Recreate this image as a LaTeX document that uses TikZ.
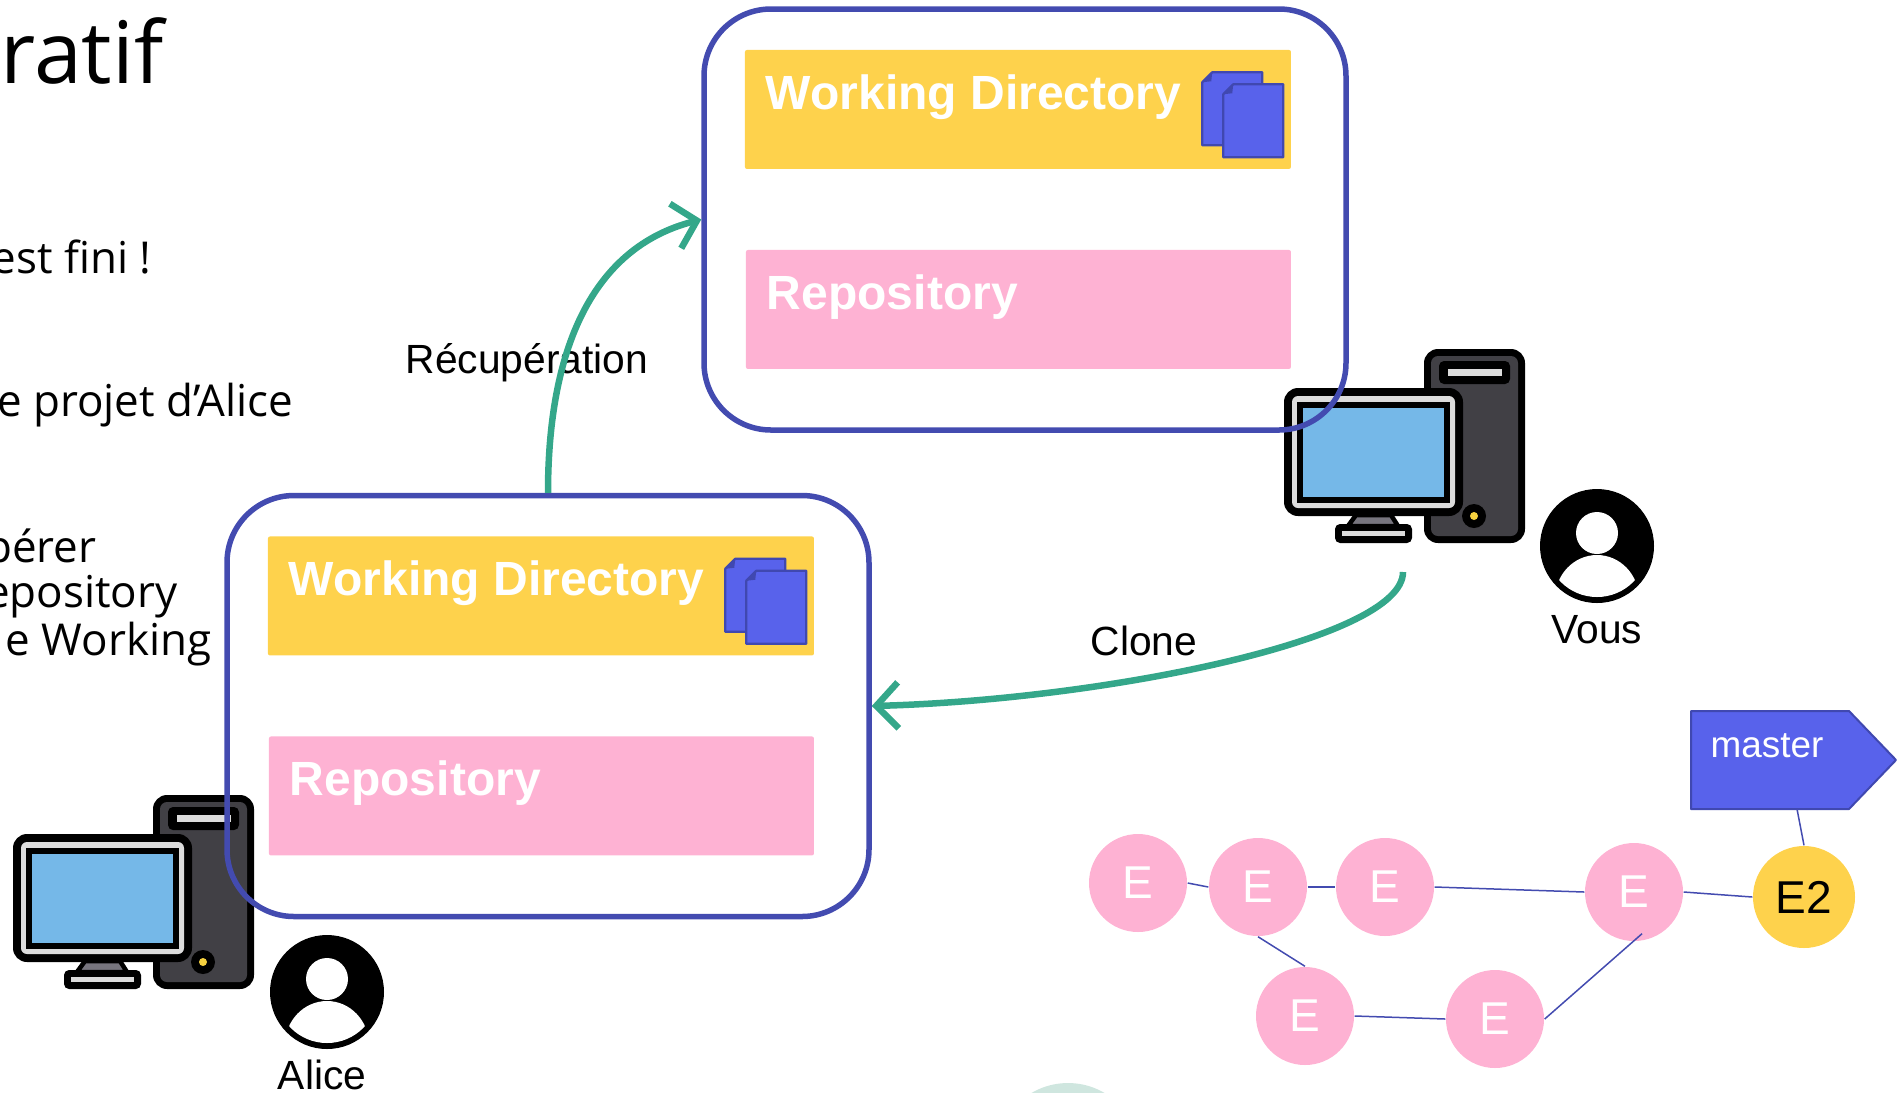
\documentclass[tikz,border=0pt]{standalone}
\usepackage{fontspec}
\setmainfont{Liberation Sans}
\newfontfamily\slidefont{Open Sans}
\usetikzlibrary{arrows.meta,calc}

\definecolor{frameblue}{RGB}{67,75,176}
\definecolor{wdyellow}{RGB}{254,210,76}
\definecolor{repopink}{RGB}{254,178,211}
\definecolor{flowgreen}{RGB}{52,167,138}
\definecolor{docblue}{RGB}{88,98,235}
\definecolor{docedge}{RGB}{64,72,176}
\definecolor{screenblue}{RGB}{117,184,232}
\definecolor{towergray}{RGB}{65,64,69}
\definecolor{panelgray}{RGB}{220,220,220}
\definecolor{neckgray}{RGB}{119,117,126}
\definecolor{ledyellow}{RGB}{246,209,63}
\definecolor{mint}{RGB}{207,230,223}

\tikzset{
  workspace/.style={draw=frameblue, line width=0.55mm, rounded corners=6.7mm,
    minimum width=64.2mm, minimum height=42.1mm, inner sep=0pt},
  wdpanel/.style={fill=wdyellow, rounded corners=0.2mm, minimum width=54.6mm,
    minimum height=11.9mm, inner sep=0pt, anchor=north west},
  repopanel/.style={fill=repopink, rounded corners=0.2mm, minimum width=54.5mm,
    minimum height=11.9mm, inner sep=0pt, anchor=north west},
  paneltext/.style={text=white, font=\bfseries\fontsize{13.66pt}{16pt}\selectfont,
    inner sep=0pt, anchor=base west},
  flow/.style={draw=flowgreen, line width=0.65mm,
    -{Straight Barb[length=2.2mm,width=4.6mm]}},
  caption/.style={font=\fontsize{11.6pt}{14pt}\selectfont, inner sep=0pt},
  slidetext/.style={font=\slidefont\fontsize{12.5pt}{15pt}\selectfont,
    inner sep=0pt, anchor=base east},
  commit/.style={circle, fill=repopink, minimum size=9.8mm, inner sep=0pt,
    text=white, font=\fontsize{13.1pt}{16pt}\selectfont},
  headcommit/.style={commit, fill=wdyellow, text=black, minimum size=10.2mm},
  history/.style={draw=frameblue, line width=0.15mm},
  % two stacked document sheets
  pics/docs/.style={code={
    \foreach \dx/\dy in {0/0, 21/12} {
      \filldraw[fill=docblue, draw=docedge, line width=0.22mm, line join=round]
        (\dx+10,\dy) -- (\dx+60,\dy) -- (\dx+60,\dy+73) -- (\dx,\dy+73)
        -- (\dx,\dy+10) -- cycle;
      \fill[docedge] (\dx,\dy+10) -- (\dx+10,\dy) -- (\dx+9,\dy+9) -- cycle;
    }
  }},
  % desktop computer: tower origin at its top-left corner
  pics/computer/.style={code={
    \fill[black, rounded corners=1.4mm] (0,0) rectangle (101,194);
    \fill[towergray, rounded corners=0.7mm] (7,7) rectangle (94,187);
    \fill[black, rounded corners=0.5mm] (15,12) rectangle (86,35);
    \fill[panelgray] (24,20) rectangle (78,27);
    \fill[black] (50,167) circle[radius=12];
    \fill[ledyellow] (50,167) circle[radius=4];
    \fill[black, rounded corners=1.4mm] (-140,39) rectangle (39,167);
    \fill[panelgray, rounded corners=0.6mm] (-132,47) rectangle (31,159);
    \fill[black] (-127,53) rectangle (26,154);
    \fill[screenblue] (-121,59) rectangle (20,148);
    \filldraw[fill=neckgray, draw=black, line width=0.45mm, line join=round]
      (-68,166) -- (-33,166) -- (-26,177) -- (-76,177) -- cycle;
    \fill[black, rounded corners=0.5mm] (-89,175) rectangle (-12,194);
    \fill[panelgray] (-82,182) rectangle (-19,187);
  }},
  % user avatar
  pics/user/.style={code={
    \fill[black] (0,0) circle[radius=57];
    \fill[white] (0,-13) circle[radius=21];
    \begin{scope}
      \clip (0,0) circle[radius=51];
      \fill[white] (0,53) ellipse[x radius=42, y radius=44];
    \end{scope}
  }},
}

% a workspace: frame, working directory panel, repository panel
\newcommand\drawworkspace[2]{%
  \node[workspace] (#1) at #2 {};
  \node[wdpanel] (#1-wd) at ($(#1.north west)+(43,43)$) {};
  \node[paneltext] (#1-wdlabel) at ($(#1-wd.north west)+(21,60)$) {Working Directory};
  \pic (#1-docs) at ($(#1-wd.north west)+(458,23)$) {docs};
  \node[repopanel] (#1-repo) at ($(#1.north west)+(44,243)$) {};
  \node[paneltext] (#1-repolabel) at ($(#1-repo.north west)+(21,60)$) {Repository};
}

\begin{document}
\begin{tikzpicture}[x=0.1mm, y=-0.1mm]
\useasboundingbox (0,0) rectangle (1903,1092);
\clip (0,0) rectangle (1903,1092);

% decorative disc at the bottom edge
\fill[mint] (1068,1155) circle[radius=72];

% slide text on the left
\node[slidetext, font=\slidefont\fontsize{24.5pt}{28pt}\selectfont] (title) at (164,83) {ratif};
\node[slidetext] (line1) at (152,273) {est fini !};
\node[slidetext] (line2) at (294,416) {e projet d’Alice};
\node[slidetext] (line3) at (97,562) {pérer};
\node[slidetext] (line4) at (178,607) {epository};
\node[slidetext] (line5) at (212,655) {e Working};

% computers and users
\pic (vouspc) at (1424,349) {computer};
\pic (alicepc) at (153,795) {computer};
\pic (vousavatar) at (1597,546) {user};
\pic (aliceavatar) at (327,992) {user};
\node[caption, anchor=base] (vouslabel) at (1597,643) {Vous};
\node[caption, anchor=base] (alicelabel) at (322,1089) {Alice};
\coordinate (vouspc-out) at (1403,572);

% workspaces
\drawworkspace{vousws}{(1025,219.5)}
\drawworkspace{alicews}{(548,706)}

% transfers
\node[caption, anchor=base west] (recup) at (405,373) {Récupération};
\node[caption, anchor=base west] (clonelabel) at (1090,655) {Clone};
\draw[flow] (alicews.north) .. controls +(0,-142) and +(-110,28) .. (vousws.west);
\draw[flow] (vouspc-out) .. controls +(0,68) and +(229,-6) .. (alicews.east);

% commit history
\node[commit] (c1) at (1138,883) {E};
\node[commit] (c2) at (1258,887) {E};
\node[commit] (c3) at (1385,887) {E};
\node[commit] (c4) at (1634,892) {E};
\node[commit] (c5) at (1305,1016) {E};
\node[commit] (c6) at (1495,1019) {E};
\node[headcommit] (tip) at (1804,897) {E2};

\draw[history] (c1.east) -- (c2.west);
\draw[history] (c2.east) -- (c3.west);
\draw[history] (c3.east) -- (c4.west);
\draw[history] (c4.east) -- (tip.west);
\draw[history] (c2.south) -- (c5.north);
\draw[history] (c5.east) -- (c6.west);
\draw[history] (c6.east) -- ($(c4.south)+(8,-8)$);

% branch tag
\filldraw[fill=docblue, draw=docedge, line width=0.2mm, line join=round]
  (1691,711) -- (1849,711) -- (1896,760) -- (1849,809) -- (1691,809) -- cycle;
\node[text=white, font=\fontsize{10.5pt}{12pt}\selectfont, inner sep=0pt,
  anchor=base west] (master) at (1710,757) {master};
\coordinate (tagfoot) at (1797,809);
\draw[history] (tagfoot) -- (tip.north);
\end{tikzpicture}
\end{document}
